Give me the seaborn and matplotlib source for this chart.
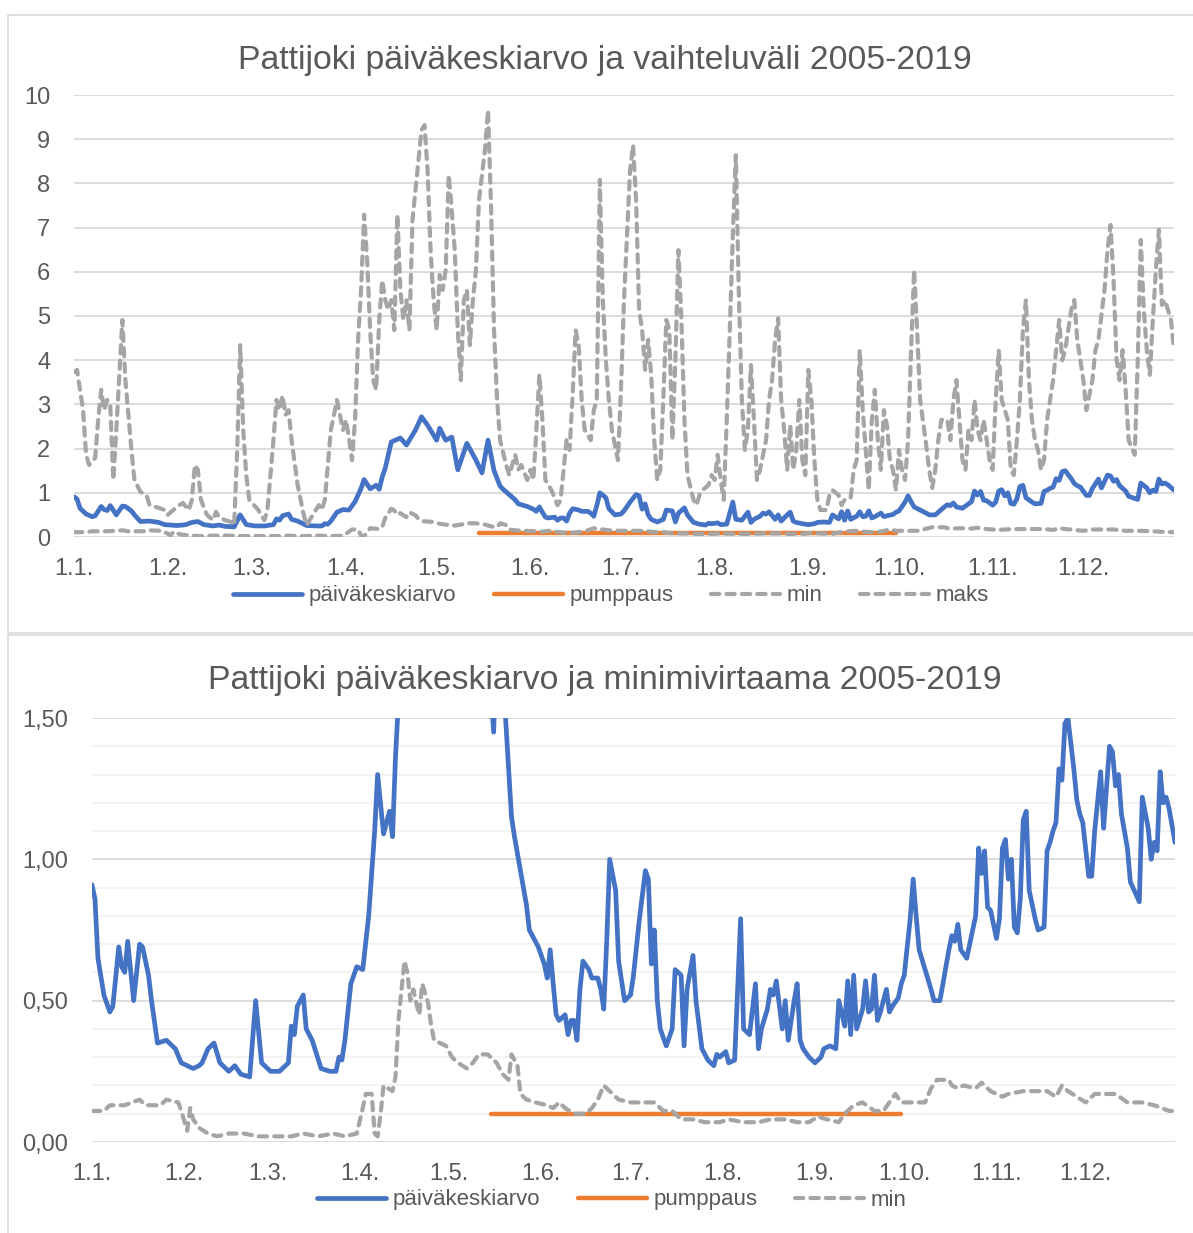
import matplotlib
matplotlib.use("Agg")
import matplotlib.pyplot as plt
from matplotlib.lines import Line2D
from matplotlib.patches import Rectangle
import pandas as pd
import seaborn as sns

# day of year (0 = 1.1.) and daily values
mean_days = [0, 1, 2, 4, 6, 7, 9, 10, 11, 12, 14, 16, 17, 19, 20, 22, 25, 28, 30, 34,
             36, 37, 39, 41, 43, 46, 48, 50, 53, 55, 57, 60, 63, 66, 67, 68, 69, 70, 71, 72,
             74, 77, 80, 82, 83, 84, 85, 87, 88, 89, 91, 93, 95, 96, 98, 100, 101, 102, 103, 105,
             108, 110, 113, 115, 117, 120, 121, 123, 125, 127, 130, 133, 135, 137, 139, 141, 142, 144, 146, 147,
             150, 152, 153, 154, 155, 156, 157, 159, 160, 161, 162, 163, 164, 165, 167, 168, 170, 171, 172, 173,
             174, 176, 177, 179, 181, 182, 184, 186, 187, 188, 189, 190, 191, 193, 195, 196, 198, 199, 200, 202,
             203, 205, 207, 209, 210, 211, 213, 214, 216, 218, 219, 221, 223, 224, 225, 227, 228, 229, 230, 232,
             233, 234, 236, 237, 238, 239, 241, 243, 245, 246, 248, 250, 251, 253, 254, 255, 256, 257, 259, 260,
             261, 262, 263, 264, 265, 267, 268, 269, 271, 272, 273, 275, 276, 277, 278, 280, 282, 283, 285, 288,
             289, 290, 291, 292, 294, 296, 297, 298, 299, 300, 301, 302, 304, 305, 306, 307, 308, 309, 310, 311,
             312, 313, 314, 315, 317, 318, 320, 321, 322, 323, 324, 325, 326, 327, 328, 330, 331, 332, 333, 335,
             336, 337, 339, 340, 342, 343, 344, 345, 346, 348, 349, 352, 353, 355, 356, 357, 358, 359, 360, 361,
             362, 364]
mean_vals = [0.91, 0.86, 0.65, 0.52, 0.46, 0.48, 0.69, 0.62, 0.60, 0.71, 0.50, 0.70, 0.69, 0.59, 0.50, 0.35, 0.36, 0.33, 0.28, 0.26,
             0.27, 0.28, 0.33, 0.35, 0.28, 0.25, 0.27, 0.24, 0.23, 0.50, 0.28, 0.25, 0.25, 0.28, 0.41, 0.38, 0.48, 0.50, 0.52, 0.40,
             0.36, 0.26, 0.25, 0.25, 0.30, 0.29, 0.36, 0.56, 0.59, 0.62, 0.61, 0.80, 1.10, 1.30, 1.09, 1.17, 1.08, 1.36, 1.56, 2.15,
             2.24, 2.08, 2.42, 2.72, 2.53, 2.19, 2.46, 2.19, 2.26, 1.52, 2.12, 1.74, 1.45, 2.19, 1.50, 1.15, 1.08, 0.96, 0.84, 0.75,
             0.69, 0.63, 0.58, 0.68, 0.56, 0.45, 0.43, 0.45, 0.38, 0.43, 0.43, 0.36, 0.54, 0.64, 0.61, 0.58, 0.58, 0.54, 0.47, 0.71,
             1.00, 0.89, 0.64, 0.50, 0.52, 0.59, 0.79, 0.96, 0.93, 0.63, 0.75, 0.50, 0.40, 0.34, 0.40, 0.61, 0.59, 0.34, 0.54, 0.66,
             0.50, 0.33, 0.29, 0.27, 0.31, 0.30, 0.32, 0.28, 0.29, 0.79, 0.40, 0.38, 0.56, 0.33, 0.40, 0.47, 0.54, 0.52, 0.57, 0.40,
             0.50, 0.36, 0.50, 0.56, 0.36, 0.33, 0.30, 0.28, 0.30, 0.33, 0.34, 0.33, 0.50, 0.41, 0.57, 0.38, 0.59, 0.40, 0.47, 0.57,
             0.46, 0.47, 0.59, 0.43, 0.46, 0.54, 0.46, 0.48, 0.51, 0.56, 0.59, 0.79, 0.93, 0.80, 0.68, 0.61, 0.54, 0.50, 0.50, 0.68,
             0.73, 0.71, 0.77, 0.68, 0.65, 0.75, 0.80, 1.04, 0.95, 1.03, 0.83, 0.82, 0.72, 0.79, 1.04, 1.07, 0.93, 1.00, 0.76, 0.74,
             0.86, 1.14, 1.17, 0.89, 0.79, 0.75, 0.76, 1.03, 1.06, 1.10, 1.13, 1.32, 1.28, 1.48, 1.50, 1.32, 1.21, 1.16, 1.13, 0.94,
             0.94, 1.10, 1.31, 1.11, 1.40, 1.38, 1.26, 1.30, 1.16, 1.04, 0.92, 0.85, 1.22, 1.11, 1.00, 1.06, 1.03, 1.31, 1.20, 1.22,
             1.18, 1.06]

pump_days = [134, 272]
pump_vals = [0.10, 0.10]

min_days = [0, 4, 6, 11, 16, 18, 23, 25, 29, 30, 32, 33, 34, 36, 39, 42, 46, 51, 56, 62,
            67, 71, 76, 81, 85, 89, 91, 92, 94, 95, 96, 97, 98, 101, 102, 103, 105, 106, 107, 108,
            109, 110, 111, 113, 114, 115, 119, 121, 123, 126, 128, 130, 133, 136, 138, 140, 141, 143, 144, 146,
            149, 153, 155, 157, 159, 162, 166, 168, 170, 172, 175, 177, 181, 186, 189, 192, 195, 198, 202, 206,
            211, 214, 219, 224, 228, 233, 237, 241, 244, 247, 251, 253, 256, 259, 263, 266, 268, 270, 272, 277,
            280, 282, 284, 288, 289, 291, 293, 297, 299, 302, 306, 308, 313, 317, 321, 324, 326, 328, 331, 334,
            337, 340, 344, 348, 353, 357, 362, 364]
min_vals = [0.11, 0.11, 0.13, 0.13, 0.15, 0.13, 0.13, 0.15, 0.14, 0.11, 0.04, 0.12, 0.08, 0.05, 0.03, 0.02, 0.03, 0.03, 0.02, 0.02,
            0.02, 0.03, 0.02, 0.03, 0.02, 0.03, 0.12, 0.17, 0.17, 0.03, 0.02, 0.10, 0.20, 0.18, 0.23, 0.43, 0.64, 0.60, 0.50, 0.54,
            0.49, 0.45, 0.56, 0.49, 0.41, 0.36, 0.34, 0.30, 0.28, 0.26, 0.28, 0.31, 0.31, 0.28, 0.24, 0.22, 0.31, 0.27, 0.17, 0.15,
            0.14, 0.13, 0.12, 0.14, 0.12, 0.10, 0.10, 0.12, 0.15, 0.20, 0.17, 0.15, 0.14, 0.14, 0.14, 0.11, 0.11, 0.08, 0.08, 0.07,
            0.07, 0.08, 0.07, 0.07, 0.08, 0.08, 0.07, 0.07, 0.09, 0.08, 0.07, 0.10, 0.13, 0.14, 0.11, 0.11, 0.14, 0.17, 0.14, 0.14,
            0.14, 0.19, 0.22, 0.22, 0.20, 0.19, 0.20, 0.19, 0.21, 0.18, 0.16, 0.17, 0.18, 0.18, 0.18, 0.16, 0.20, 0.18, 0.16, 0.14,
            0.17, 0.17, 0.17, 0.14, 0.14, 0.13, 0.11, 0.11]

max_days = [0, 1, 3, 4, 5, 7, 8, 9, 10, 11, 12, 13, 14, 15, 16, 17, 19, 20, 22, 24,
            25, 28, 30, 31, 34, 36, 38, 39, 40, 41, 42, 44, 46, 47, 48, 50, 52, 53, 54, 55,
            56, 57, 58, 61, 63, 64, 66, 67, 68, 69, 70, 71, 72, 74, 76, 77, 79, 81, 82, 83,
            85, 87, 88, 89, 90, 91, 92, 93, 94, 95, 96, 97, 98, 99, 100, 101, 102, 103, 104, 105,
            106, 107, 108, 109, 110, 111, 112, 114, 115, 116, 117, 118, 119, 120, 121, 122, 123, 124, 125, 126,
            127, 128, 129, 130, 131, 132, 133, 134, 136, 137, 138, 139, 140, 141, 143, 144, 146, 147, 148, 150,
            151, 152, 153, 154, 155, 156, 158, 160, 161, 162, 163, 164, 165, 166, 167, 168, 169, 171, 172, 173,
            174, 175, 176, 177, 178, 179, 180, 181, 182, 184, 185, 186, 187, 188, 189, 190, 191, 192, 193, 194,
            195, 196, 197, 198, 199, 200, 201, 202, 203, 205, 206, 207, 208, 210, 211, 212, 213, 214, 215, 216,
            217, 218, 219, 220, 221, 222, 223, 224, 225, 226, 227, 229, 230, 231, 232, 233, 234, 235, 236, 237,
            238, 239, 240, 241, 242, 243, 244, 245, 246, 247, 249, 250, 251, 253, 254, 255, 257, 258, 259, 260,
            261, 262, 263, 264, 265, 266, 267, 268, 269, 270, 271, 272, 273, 274, 275, 276, 277, 278, 279, 280,
            282, 283, 284, 285, 286, 287, 289, 290, 291, 292, 293, 294, 295, 296, 297, 298, 299, 300, 301, 302,
            303, 304, 305, 306, 307, 309, 310, 311, 312, 313, 314, 315, 316, 317, 318, 319, 320, 321, 322, 323,
            324, 325, 326, 327, 328, 329, 330, 331, 332, 333, 334, 335, 337, 338, 339, 341, 342, 343, 344, 345,
            346, 347, 348, 349, 351, 352, 353, 354, 355, 356, 357, 358, 359, 360, 361, 362, 363, 364]
max_vals = [3.73, 3.78, 2.87, 1.86, 1.63, 1.79, 2.65, 3.33, 2.87, 3.10, 2.99, 1.29, 2.42, 3.67, 4.91, 3.55, 1.97, 1.29, 1.02, 0.95,
            0.72, 0.66, 0.61, 0.50, 0.68, 0.77, 0.61, 0.84, 1.63, 1.52, 0.84, 0.50, 0.38, 0.57, 0.45, 0.38, 0.34, 0.27, 1.97, 4.34,
            2.42, 1.40, 0.84, 0.61, 0.38, 0.61, 2.19, 3.10, 2.87, 3.20, 2.76, 2.87, 2.19, 1.18, 0.50, 0.27, 0.50, 0.72, 0.61, 0.84,
            2.42, 3.10, 2.76, 2.42, 2.65, 2.24, 1.74, 2.65, 4.46, 5.59, 7.29, 6.27, 4.68, 3.55, 3.33, 4.91, 5.81, 5.36, 5.14, 5.36,
            4.68, 7.29, 5.59, 4.91, 5.36, 4.68, 7.17, 8.53, 9.21, 9.32, 8.30, 6.49, 5.36, 4.68, 5.93, 5.59, 6.04, 8.19, 7.40, 6.49,
            4.68, 3.55, 5.36, 5.59, 4.34, 5.36, 6.04, 7.62, 8.76, 9.66, 7.50, 4.68, 3.10, 2.19, 1.63, 1.40, 1.86, 1.52, 1.63, 1.29,
            1.52, 1.29, 2.42, 3.67, 2.65, 1.29, 1.06, 0.72, 0.84, 1.52, 2.19, 1.97, 3.21, 4.68, 4.34, 3.10, 2.42, 2.19, 2.87, 3.10,
            8.08, 5.36, 4.00, 3.10, 2.42, 2.08, 1.74, 3.33, 5.36, 8.30, 8.87, 7.62, 5.14, 4.68, 3.78, 4.46, 3.67, 2.19, 1.29, 1.52,
            3.10, 4.91, 4.68, 2.19, 4.00, 6.49, 4.91, 2.65, 1.40, 0.84, 0.72, 0.95, 1.06, 1.18, 1.40, 1.29, 1.86, 1.29, 0.84, 2.65,
            4.68, 6.83, 8.64, 5.50, 3.10, 1.97, 2.42, 3.89, 2.65, 1.29, 1.52, 2.19, 3.10, 3.55, 4.46, 4.95, 3.10, 2.42, 1.52, 2.53,
            1.52, 1.97, 3.10, 1.74, 1.40, 3.78, 3.10, 1.74, 0.84, 0.61, 0.61, 0.95, 1.06, 0.95, 0.72, 0.84, 0.88, 1.52, 1.74, 4.23,
            2.87, 1.97, 1.06, 2.65, 3.33, 2.19, 1.52, 2.87, 2.53, 1.74, 1.52, 1.06, 1.97, 1.52, 1.29, 2.19, 4.23, 6.04, 4.68, 3.10,
            2.08, 1.52, 1.11, 1.52, 2.19, 2.65, 2.65, 2.19, 3.10, 3.55, 2.65, 1.74, 1.52, 2.42, 2.19, 3.10, 2.42, 2.19, 2.65, 2.19,
            1.74, 1.52, 3.10, 4.23, 3.10, 2.65, 1.52, 1.40, 2.19, 3.10, 4.68, 5.36, 3.55, 2.65, 2.19, 1.97, 1.52, 1.74, 2.65, 3.10,
            3.55, 4.23, 4.91, 4.00, 4.23, 4.68, 5.14, 5.36, 4.46, 4.00, 3.55, 2.87, 3.55, 4.23, 4.46, 5.59, 6.49, 7.06, 5.81, 4.00,
            3.55, 4.23, 3.33, 2.19, 1.86, 4.00, 6.72, 5.14, 4.23, 3.67, 4.91, 6.04, 6.95, 5.25, 5.36, 5.14, 4.91, 4.23]

month_days = [0, 31, 59, 90, 120, 151, 181, 212, 243, 273, 304, 334]
month_labels = ["1.1.", "1.2.", "1.3.", "1.4.", "1.5.", "1.6.", "1.7.", "1.8.", "1.9.", "1.10.", "1.11.", "1.12."]

top_yticks = [0, 1, 2, 3, 4, 5, 6, 7, 8, 9, 10]
bottom_yticks = [0.0, 0.5, 1.0, 1.5]
bottom_ylabels = ["0,00", "0,50", "1,00", "1,50"]
bottom_minor = [0.1, 0.2, 0.3, 0.4, 0.6, 0.7, 0.8, 0.9, 1.1, 1.2, 1.3, 1.4]

BLUE = "#4472C4"
ORANGE = "#ED7D31"
GRAY = "#A5A5A5"
TEXT = "#595959"
GRID = "#D9D9D9"
DASH = (0, (2.0, 1.7))
LW_BLUE = 3.4
LW_ORANGE = 3.2
LW_GRAY = 3.0

sns.set_theme(style="white")
plt.rcParams["font.family"] = ["Liberation Sans Narrow", "Liberation Sans", "DejaVu Sans"]

mean_df = pd.DataFrame({"day": mean_days, "value": mean_vals})
pump_df = pd.DataFrame({"day": pump_days, "value": pump_vals})
min_df = pd.DataFrame({"day": min_days, "value": min_vals})
max_df = pd.DataFrame({"day": max_days, "value": max_vals})

W, H = 1193, 1233
fig = plt.figure(figsize=(W / 100, H / 100), dpi=100, facecolor="white")

# chart frames
fig.add_artist(Rectangle((8 / W, 1 - 633 / H), 1.0, (633 - 15) / H, transform=fig.transFigure,
                         fill=False, edgecolor=GRID, linewidth=1.2))
fig.add_artist(Rectangle((8 / W, -0.1), 1.0, 1 - 635 / H + 0.1, transform=fig.transFigure,
                         fill=False, edgecolor=GRID, linewidth=1.2))

ax1 = fig.add_axes([74 / W, 1 - 537 / H, 1100 / W, 442 / H])
ax2 = fig.add_axes([92 / W, 1 - 1142 / H, 1083 / W, 424 / H])


def draw_lines(ax, with_max):
    sns.lineplot(data=mean_df, x="day", y="value", ax=ax, color=BLUE, linewidth=LW_BLUE,
                 solid_capstyle="round", solid_joinstyle="round", legend=False)
    sns.lineplot(data=pump_df, x="day", y="value", ax=ax, color=ORANGE, linewidth=LW_ORANGE,
                 solid_capstyle="round", legend=False)
    sns.lineplot(data=min_df, x="day", y="value", ax=ax, color=GRAY, linewidth=LW_GRAY,
                 linestyle=DASH, dash_capstyle="round", legend=False)
    if with_max:
        sns.lineplot(data=max_df, x="day", y="value", ax=ax, color=GRAY, linewidth=LW_GRAY,
                     linestyle=DASH, dash_capstyle="round", legend=False)


draw_lines(ax1, True)
draw_lines(ax2, False)

for ax in (ax1, ax2):
    ax.set_facecolor("none")
    for s in ax.spines.values():
        s.set_visible(False)
    ax.set_xlim(0, 364)
    ax.set_xticks(month_days)
    ax.set_xticklabels(month_labels)
    ax.tick_params(axis="both", length=0, labelsize=17, labelcolor=TEXT)
    ax.tick_params(axis="y", pad=17)
    ax.tick_params(axis="x", pad=15)
    ax.set_xlabel("")
    ax.set_ylabel("")

ax1.set_ylim(0, 10)
ax1.set_yticks(top_yticks)
ax1.grid(axis="y", color=GRID, linewidth=1.3, zorder=0)
ax1.set_axisbelow(True)

ax2.set_ylim(0, 1.5)
ax2.set_yticks(bottom_yticks)
ax2.set_yticklabels(bottom_ylabels)
ax2.set_yticks(bottom_minor, minor=True)
ax2.tick_params(axis="y", which="minor", length=0)
ax2.grid(axis="y", which="major", color=GRID, linewidth=1.3, zorder=0)
ax2.grid(axis="y", which="minor", color="#F2F2F2", linewidth=1.3, zorder=0)
ax2.set_axisbelow(True)

fig.text(605 / W, 1 - 61 / H, "Pattijoki päiväkeskiarvo ja vaihteluväli 2005-2019",
         ha="center", va="center", fontsize=24.3, color=TEXT)
fig.text(605 / W, 1 - 681 / H, "Pattijoki päiväkeskiarvo ja minimivirtaama 2005-2019",
         ha="center", va="center", fontsize=24.3, color=TEXT)

h_mean = Line2D([], [], color=BLUE, linewidth=LW_BLUE, solid_capstyle="round")
h_pump = Line2D([], [], color=ORANGE, linewidth=LW_ORANGE, solid_capstyle="round")
h_min = Line2D([], [], color=GRAY, linewidth=LW_GRAY, linestyle=DASH, dash_capstyle="round")
h_max = Line2D([], [], color=GRAY, linewidth=LW_GRAY, linestyle=DASH, dash_capstyle="round")

leg_kw = dict(loc="center", frameon=False, fontsize=16, labelcolor=TEXT, handlelength=3.1,
              handletextpad=0.3, columnspacing=1.7, borderpad=0)
fig.legend([h_mean, h_pump, h_min, h_max], ["päiväkeskiarvo", "pumppaus", "min", "maks"], ncol=4,
           bbox_to_anchor=(611 / W, 1 - 596 / H), **leg_kw)
fig.legend([h_mean, h_pump, h_min], ["päiväkeskiarvo", "pumppaus", "min"], ncol=3,
           bbox_to_anchor=(612 / W, 1 - 1200 / H), **leg_kw)

fig.savefig("out.png", dpi=100)
